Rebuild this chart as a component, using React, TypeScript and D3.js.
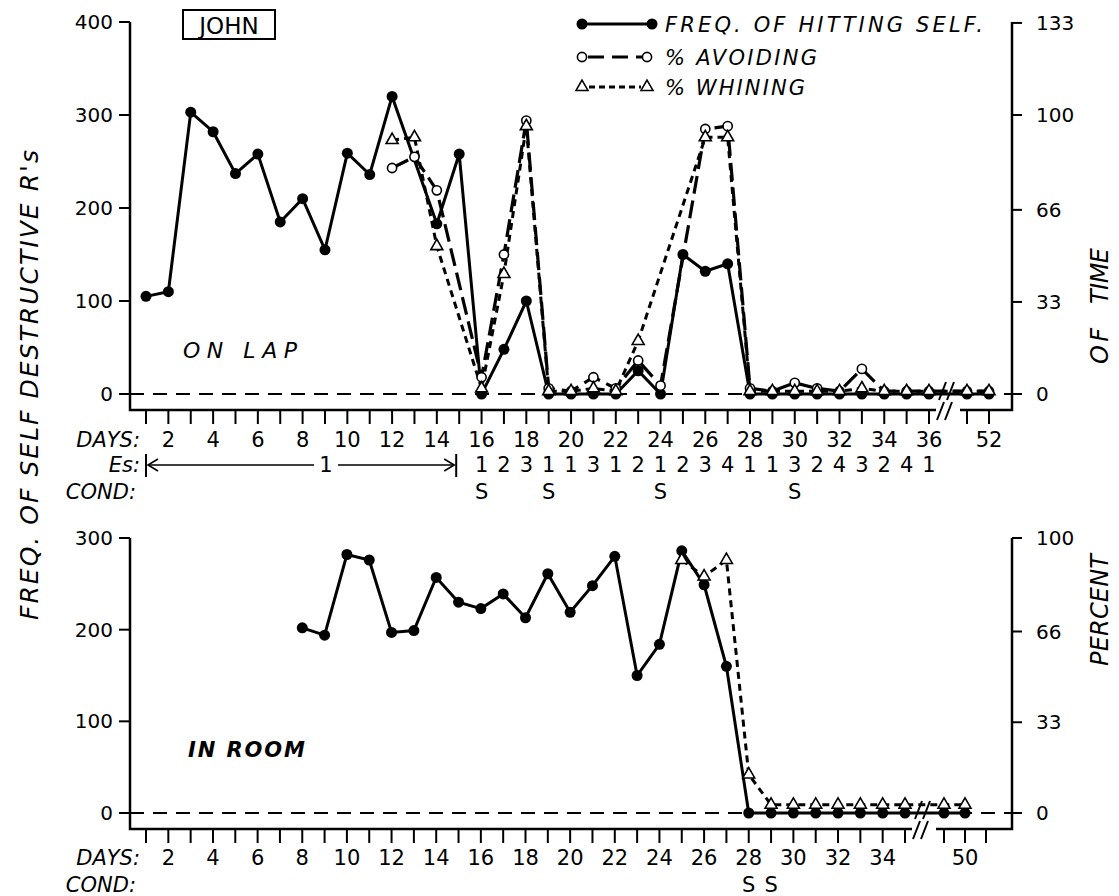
import React from "react";
import * as d3 from "d3";

// ON LAP panel (days 1-36, then 51-52 after the axis break)
const lapDays = [1, 2, 3, 4, 5, 6, 7, 8, 9, 10, 11, 12, 13, 14, 15, 16, 17, 18, 19, 20, 21, 22, 23, 24, 25, 26, 27, 28, 29, 30, 31, 32, 33, 34, 35, 36, 51, 52];
const lapFreq = [105, 110, 303, 282, 237, 258, 185, 210, 155, 259, 236, 320, null, 183, 258, 0, 48, 100, 0, 0, 0, 0, 25, 0, 150, 132, 140, 0, 0, 0, 0, 0, 0, 0, 0, 0, 0, 0];
const lapAvoid = [null, null, null, null, null, null, null, null, null, null, null, 81, 85, 73, null, 6, 50, 98, 2, 1, 6, 2, 12, 3, null, 95, 96, 2, 1, 4, 2, 1, 9, 1, 1, 1, 1, 1];
const lapWhine = [null, null, null, null, null, null, null, null, null, null, null, 91, 92, 53, null, 2, 43, 96, 1, 1, 2, 1, 19, null, null, 92, 92, 1, 1, 1, 1, 1, 2, 1, 1, 1, 1, 1];
const lapDayLabels = [2, 4, 6, 8, 10, 12, 14, 16, 18, 20, 22, 24, 26, 28, 30, 32, 34, 36, 52];
const esDays = [16, 17, 18, 19, 20, 21, 22, 23, 24, 25, 26, 27, 28, 29, 30, 31, 32, 33, 34, 35, 36];
const esValues = ["1", "2", "3", "1", "1", "3", "1", "2", "1", "2", "3", "4", "1", "1", "3", "2", "4", "3", "2", "4", "1"];
const lapCondDays = [16, 19, 24, 30];
const lapFreqTicks = [0, 100, 200, 300, 400];
const lapPctTicks = [0, 33, 66, 100, 133];

// IN ROOM panel (days 1-35, then 49-51 after the break)
const roomTickDays = [1, 2, 3, 4, 5, 6, 7, 8, 9, 10, 11, 12, 13, 14, 15, 16, 17, 18, 19, 20, 21, 22, 23, 24, 25, 26, 27, 28, 29, 30, 31, 32, 33, 34, 35, 49, 50, 51];
const roomDays = [8, 9, 10, 11, 12, 13, 14, 15, 16, 17, 18, 19, 20, 21, 22, 23, 24, 25, 26, 27, 28, 29, 30, 31, 32, 33, 34, 35, 49, 50];
const roomFreq = [202, 194, 282, 276, 197, 199, 257, 230, 223, 239, 213, 261, 219, 248, 280, 150, 184, 286, 249, 160, 0, 0, 0, 0, 0, 0, 0, 0, 0, 0];
const roomWhine = [null, null, null, null, null, null, null, null, null, null, null, null, null, null, null, null, null, 92, 86, 92, 14, 3, 3, 3, 3, 3, 3, 3, 3, 3];
const roomDayLabels = [2, 4, 6, 8, 10, 12, 14, 16, 18, 20, 22, 24, 26, 28, 30, 32, 34, 50];
const roomCondDays = [28, 29];
const roomFreqTicks = [0, 100, 200, 300];
const roomPctTicks = [0, 33, 66, 100];

const FONT = "'DejaVu Sans', 'Liberation Sans', sans-serif";
const LEFT = 130;
const RIGHT = 1012;

const xLap = d3.scaleLinear().domain([1, 36, 51, 52]).range([146, 929, 967, 989]);
const yLap = d3.scaleLinear().domain([0, 400]).range([394, 22]);
const pLap = d3.scaleLinear().domain([0, 400 / 3]).range([394, 22]);

const xRoom = d3.scaleLinear().domain([1, 35, 49, 51]).range([146, 905, 944, 986]);
const yRoom = d3.scaleLinear().domain([0, 300]).range([813, 538]);
const pRoom = d3.scaleLinear().domain([0, 100]).range([813, 538]);

type Pt = [number, number];
const pairs = (days: number[], vals: (number | null)[]): Pt[] =>
  days.map((d, i) => [d, vals[i]] as [number, number | null]).filter((p) => p[1] != null) as Pt[];

const tri = d3.symbol().type(d3.symbolTriangle).size(62)();

function Series({ x, y, p, days, freq, avoid, whine }: any) {
  const f = pairs(days, freq);
  const a = avoid ? pairs(days, avoid) : [];
  const w = pairs(days, whine);
  const lf = d3.line<Pt>().x((d) => x(d[0])).y((d) => y(d[1]));
  const lp = d3.line<Pt>().x((d) => x(d[0])).y((d) => p(d[1]));
  return (
    <g>
      <path d={lp(w) || ""} fill="none" stroke="#000" strokeWidth={3} strokeDasharray="7 5" />
      {avoid && <path d={lp(a) || ""} fill="none" stroke="#000" strokeWidth={3.2} strokeDasharray="18 7" />}
      <path d={lf(f) || ""} fill="none" stroke="#000" strokeWidth={3} />
      {f.map((d, i) => (
        <circle key={"f" + i} cx={x(d[0])} cy={y(d[1])} r={5.5} fill="#000" />
      ))}
      {a.map((d, i) => (
        <circle key={"a" + i} cx={x(d[0])} cy={p(d[1])} r={4.6} fill="#fff" stroke="#000" strokeWidth={1.6} />
      ))}
      {w.map((d, i) => (
        <path key={"w" + i} d={tri || ""} transform={`translate(${x(d[0])},${p(d[1])})`} fill="#fff" stroke="#000" strokeWidth={1.6} />
      ))}
    </g>
  );
}

function Frame({ x, y, p, freqTicks, pctTicks, tickDays, labelDays, bottom, top, breakX, labelY }: any) {
  const y0 = y(0);
  return (
    <g fontFamily={FONT} fill="#000">
      <line x1={LEFT} x2={1022} y1={y0} y2={y0} stroke="#000" strokeWidth={2} strokeDasharray="14 9" />
      <path d={`M${LEFT},${top}V${bottom}H${RIGHT}V${top}`} fill="none" stroke="#000" strokeWidth={2.5} />
      {freqTicks.map((t: number) => (
        <g key={"l" + t}>
          <line x1={LEFT - 11} x2={LEFT} y1={y(t)} y2={y(t)} stroke="#000" strokeWidth={2} />
          <text x={113} y={y(t) + 7} fontSize={20} textAnchor="end">{t}</text>
        </g>
      ))}
      {pctTicks.map((t: number) => (
        <g key={"r" + t}>
          <line x1={RIGHT} x2={RIGHT + 10} y1={p(t)} y2={p(t)} stroke="#000" strokeWidth={2} />
          <text x={1036} y={p(t) + 7} fontSize={20}>{t}</text>
        </g>
      ))}
      {tickDays.map((d: number) => (
        <line key={"t" + d} x1={x(d)} x2={x(d)} y1={bottom} y2={bottom + 14} stroke="#000" strokeWidth={2} />
      ))}
      {labelDays.map((d: number) => (
        <text key={"d" + d} x={x(d)} y={labelY} fontSize={21} textAnchor="middle">{d}</text>
      ))}
      <rect x={breakX - 12} y={y0 - 14} width={24} height={bottom - y0 + 18} fill="#fff" />
      <path
        d={`M${breakX - 9},${y0 + 6}L${breakX - 2},${y0 - 12}M${breakX - 1},${y0 + 6}L${breakX + 6},${y0 - 12}M${breakX - 11},${bottom + 10}L${breakX - 4},${bottom - 8}M${breakX - 3},${bottom + 10}L${breakX + 4},${bottom - 8}`}
        stroke="#000"
        strokeWidth={2}
        fill="none"
      />
    </g>
  );
}

export default function App() {
  const esLeft = xLap(1);
  const esRight = xLap(15) - 3;
  return (
    <svg width={1119} height={896} style={{ position: "absolute", left: 0, top: 0, background: "#fff" }}>
      <g fontFamily={FONT} fill="#000">
        {/* top panel frame and data */}
        <Frame x={xLap} y={yLap} p={pLap} freqTicks={lapFreqTicks} pctTicks={lapPctTicks} tickDays={lapDays} labelDays={lapDayLabels} bottom={410} top={22} breakX={948} labelY={447} />
        <Series x={xLap} y={yLap} p={pLap} days={lapDays} freq={lapFreq} avoid={lapAvoid} whine={lapWhine} />

        {/* bottom panel */}
        <Frame x={xRoom} y={yRoom} p={pRoom} freqTicks={roomFreqTicks} pctTicks={roomPctTicks} tickDays={roomTickDays} labelDays={roomDayLabels} bottom={829} top={538} breakX={924} labelY={865} />
        <Series x={xRoom} y={yRoom} p={pRoom} days={roomDays} freq={roomFreq} whine={roomWhine} />

        {/* row labels under top panel */}
        <text x={140} y={447} fontSize={21} fontStyle="italic" textAnchor="end">DAYS:</text>
        <text x={140} y={472} fontSize={21} fontStyle="italic" textAnchor="end">Es:</text>
        <text x={136} y={499} fontSize={21} fontStyle="italic" textAnchor="end">COND:</text>
        <line x1={esLeft} x2={esLeft} y1={454} y2={477} stroke="#000" strokeWidth={2} />
        <line x1={esRight} x2={esRight} y1={454} y2={477} stroke="#000" strokeWidth={2} />
        <path d={`M${esLeft + 2},465H314M338,465H${esRight - 2}`} stroke="#000" strokeWidth={1.6} fill="none" />
        <path d={`M${esLeft + 12},459L${esLeft + 2},465L${esLeft + 12},471M${esRight - 12},459L${esRight - 2},465L${esRight - 12},471`} stroke="#000" strokeWidth={1.6} fill="none" />
        <text x={326} y={472} fontSize={21} textAnchor="middle">1</text>
        {esDays.map((d, i) => (
          <text key={"es" + d} x={xLap(d)} y={472} fontSize={21} textAnchor="middle">{esValues[i]}</text>
        ))}
        {lapCondDays.map((d) => (
          <text key={"c" + d} x={xLap(d)} y={499} fontSize={21} textAnchor="middle">S</text>
        ))}

        {/* row labels under bottom panel */}
        <text x={140} y={865} fontSize={21} fontStyle="italic" textAnchor="end">DAYS:</text>
        <text x={136} y={892} fontSize={21} fontStyle="italic" textAnchor="end">COND:</text>
        {roomCondDays.map((d) => (
          <text key={"rc" + d} x={xRoom(d)} y={892} fontSize={21} textAnchor="middle">S</text>
        ))}

        {/* name box */}
        <rect x={183} y={10} width={92} height={29} fill="none" stroke="#000" strokeWidth={2} />
        <text x={229} y={34} fontSize={23} textAnchor="middle">JOHN</text>

        {/* panel captions */}
        <text x={183} y={358} fontSize={22} fontStyle="italic" textLength={114} lengthAdjust="spacing">ON  LAP</text>
        <text x={188} y={757} fontSize={21} fontStyle="italic" fontWeight="bold" textLength={117} lengthAdjust="spacing">IN  ROOM</text>

        {/* legend */}
        <line x1={582} x2={652} y1={24} y2={24} stroke="#000" strokeWidth={3} />
        <circle cx={582} cy={24} r={5.5} fill="#000" />
        <circle cx={652} cy={24} r={5.5} fill="#000" />
        <text x={665} y={32} fontSize={21} fontStyle="italic" textLength={318} lengthAdjust="spacing">FREQ. OF  HITTING  SELF.</text>
        <line x1={588} x2={642} y1={57} y2={57} stroke="#000" strokeWidth={3} strokeDasharray="16 8" />
        <circle cx={582} cy={57} r={4.6} fill="#fff" stroke="#000" strokeWidth={1.6} />
        <circle cx={647} cy={57} r={4.6} fill="#fff" stroke="#000" strokeWidth={1.6} />
        <text x={665} y={65} fontSize={21} fontStyle="italic" textLength={152} lengthAdjust="spacing">% AVOIDING</text>
        <line x1={589} x2={641} y1={87} y2={87} stroke="#000" strokeWidth={3} strokeDasharray="6 4" />
        <path d={tri || ""} transform="translate(582,87)" fill="#fff" stroke="#000" strokeWidth={1.6} />
        <path d={tri || ""} transform="translate(647,87)" fill="#fff" stroke="#000" strokeWidth={1.6} />
        <text x={665} y={95} fontSize={21} fontStyle="italic" textLength={140} lengthAdjust="spacing">% WHINING</text>

        {/* axis titles */}
        <text transform="translate(38,385) rotate(-90)" fontSize={25} fontStyle="italic" textAnchor="middle" textLength={470} lengthAdjust="spacing">FREQ. OF SELF DESTRUCTIVE R's</text>
        <text transform="translate(1108,276) rotate(-90)" fontSize={24} fontStyle="italic" textAnchor="middle" textLength={56} lengthAdjust="spacing">TIME</text>
        <text transform="translate(1108,346) rotate(-90)" fontSize={24} fontStyle="italic" textAnchor="middle" textLength={36} lengthAdjust="spacing">OF</text>
        <text transform="translate(1108,610) rotate(-90)" fontSize={24} fontStyle="italic" textAnchor="middle" textLength={112} lengthAdjust="spacing">PERCENT</text>
      </g>
    </svg>
  );
}
